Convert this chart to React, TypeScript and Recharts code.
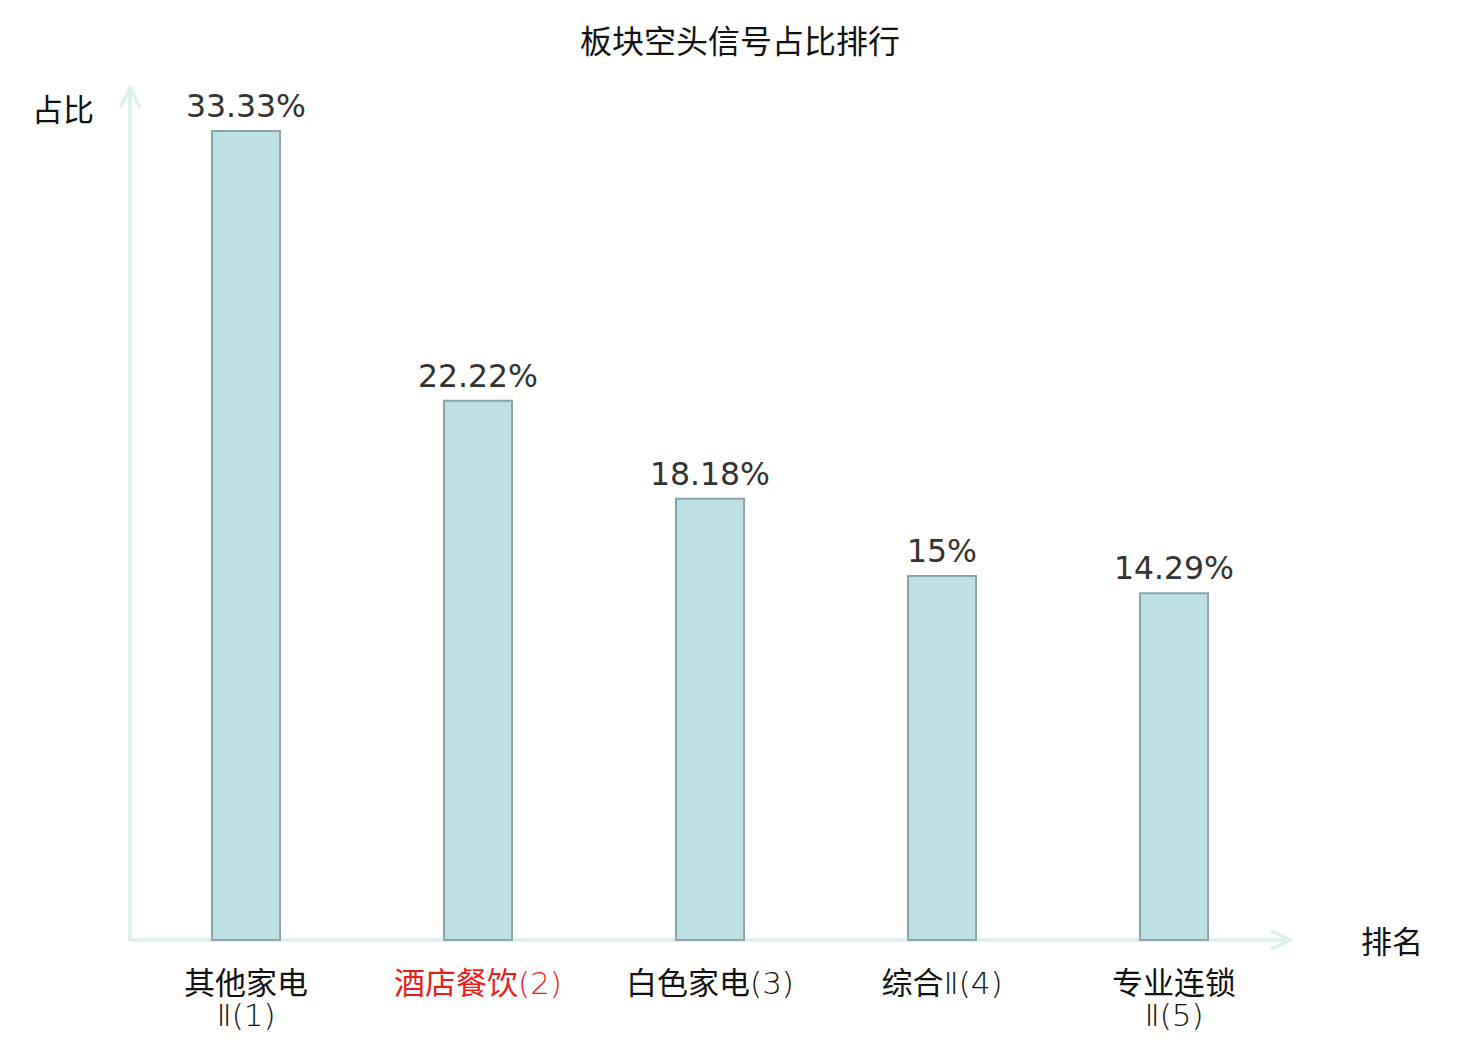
import { BarChart, Bar, XAxis, YAxis, LabelList, useOffset } from 'recharts';

// 板块空头信号占比排行
const names = ['其他家电Ⅱ', '酒店餐饮', '白色家电', '综合Ⅱ', '专业连锁Ⅱ'];
const shares = [33.33, 22.22, 18.18, 15, 14.29];
const shareLabels = ['33.33%', '22.22%', '18.18%', '15%', '14.29%'];
const highlighted = [false, true, false, false, false];
const yMax = 35.1;

const data = names.map((n, i) => ({
  name: n,
  rank: i + 1,
  value: shares[i],
  label: shareLabels[i],
  hot: highlighted[i],
}));

const W = 1480;
const H = 1040;
const AXIS = '#dcf1ee';
const CJK = '"Noto Sans CJK SC", "Noto Sans", sans-serif';
const LATIN = '"DejaVu Sans", sans-serif';

function splitName(name: string, rank: number) {
  const lines: string[] = [];
  for (let i = 0; i < name.length; i += 4) lines.push(name.slice(i, i + 4));
  lines[lines.length - 1] += `(${rank})`;
  return lines;
}

// CJK runs stay in the CJK font, the rest (Ⅱ, digits, brackets) goes light
function Runs({ text }: { text: string }) {
  const parts = text.match(/[\u4e00-\u9fff]+|[^\u4e00-\u9fff]+/g) ?? [];
  return (
    <>
      {parts.map((p, i) =>
        /[\u4e00-\u9fff]/.test(p) ? (
          <tspan key={i}>{p}</tspan>
        ) : (
          <tspan key={i} fontFamily={LATIN} fontWeight={200}>{p}</tspan>
        ),
      )}
    </>
  );
}

function Tick({ x, y, payload, index }: any) {
  const d = data[index] ?? data[payload.index];
  const lines = splitName(d.name, d.rank);
  return (
    <g fontFamily={CJK} fontSize={31} fill={d.hot ? '#ee1c1c' : '#111'}>
      {lines.map((l, i) => (
        <text key={i} x={x} y={y + 46 + i * 32} textAnchor="middle">
          <Runs text={l} />
        </text>
      ))}
    </g>
  );
}

function ArrowAxes() {
  const o = useOffset();
  if (!o) return null;
  const x0 = o.left;
  const y0 = H - o.bottom;
  const x1 = W - o.right;
  const yt = o.top;
  return (
    <g stroke={AXIS} strokeWidth={3.5} fill="none" strokeLinecap="round">
      <line x1={x0} y1={y0} x2={x1} y2={y0} />
      <polyline points={`${x1 - 18},${y0 - 9} ${x1},${y0} ${x1 - 18},${y0 + 9}`} />
      <line x1={x0} y1={y0} x2={x0} y2={yt} />
      <polyline points={`${x0 - 9},${yt + 18} ${x0},${yt} ${x0 + 9},${yt + 18}`} />
    </g>
  );
}

export default function App() {
  return (
    <div style={{ position: 'absolute', left: 0, top: 0, width: W, height: H, background: '#fff' }}>
      <BarChart width={W} height={H} data={data} margin={{ top: 88, right: 190, bottom: 0, left: 130 }}>
        <XAxis dataKey="name" axisLine={false} tickLine={false} tick={<Tick />} interval={0} height={100} />
        <YAxis domain={[0, yMax]} hide />
        <ArrowAxes />
        <Bar dataKey="value" fill="#bce0e3" stroke="#88a5a7" strokeWidth={2} barSize={68} isAnimationActive={false}>
          <LabelList dataKey="label" position="top" offset={14} fill="#333" fontSize={31.5} fontFamily={LATIN} />
        </Bar>
        <text x={740} y={53} textAnchor="middle" fontFamily={CJK} fontSize={32} fill="#111">板块空头信号占比排行</text>
        <text x={63} y={121} textAnchor="middle" fontFamily={CJK} fontSize={31} fill="#111">占比</text>
        <text x={1392} y={953} textAnchor="middle" fontFamily={CJK} fontSize={31} fill="#111">排名</text>
      </BarChart>
    </div>
  );
}
